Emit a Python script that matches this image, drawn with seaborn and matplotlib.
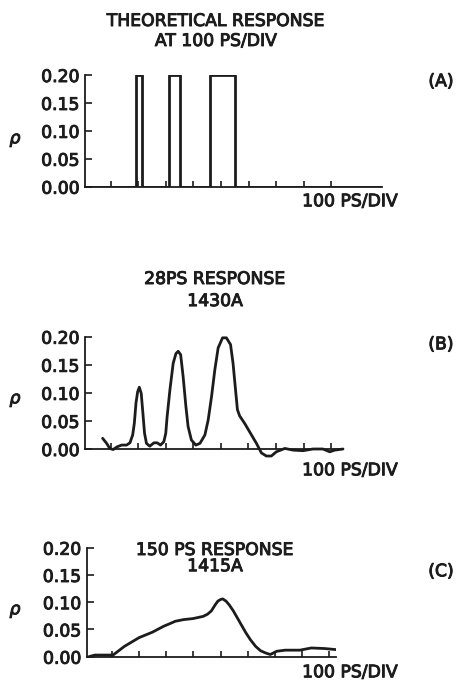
import numpy as np
import pandas as pd
import seaborn as sns
import matplotlib.pyplot as plt
import matplotlib.patheffects as pe

# 資料 (x 以每格 100 ps 為單位)
pulse_start = [1.92, 3.12, 4.60]
pulse_end = [2.12, 3.51, 5.50]
pulse_height = 0.20

b_x = [0.71, 0.855, 0.97, 1.09, 1.24, 1.40, 1.58, 1.70, 1.80, 1.86, 1.92, 1.98, 2.04,
       2.11, 2.17, 2.23, 2.30, 2.42, 2.57, 2.69, 2.81, 2.93, 3.00, 3.05, 3.15, 3.27,
       3.37, 3.45, 3.54, 3.63, 3.73, 3.81, 3.93, 4.09, 4.24, 4.42, 4.54, 4.66, 4.78,
       4.90, 5.06, 5.20, 5.35, 5.44, 5.53, 5.60, 5.68, 5.87, 5.93, 6.11, 6.29, 6.47,
       6.65, 6.83, 7.01, 7.32, 7.62, 7.98, 8.34, 8.70, 8.95, 9.13, 9.43]
b_y = [0.019, 0.010, 0.001, -0.001, 0.004, 0.007, 0.007, 0.011, 0.025, 0.046, 0.082,
       0.102, 0.110, 0.099, 0.064, 0.028, 0.010, 0.005, 0.011, 0.011, 0.007, 0.013,
       0.028, 0.058, 0.105, 0.153, 0.170, 0.174, 0.168, 0.129, 0.076, 0.040, 0.016,
       0.007, 0.010, 0.025, 0.052, 0.093, 0.141, 0.180, 0.198, 0.198, 0.186, 0.153,
       0.106, 0.070, 0.059, 0.045, 0.040, 0.025, 0.010, -0.007, -0.0125, -0.0125,
       -0.005, 0.001, -0.002, -0.003, 0.000, 0.000, -0.005, -0.002, 0.000]

c_x = [0.15, 0.37, 0.73, 1.04, 1.46, 2.00, 2.49, 2.91, 3.15, 3.33, 3.63, 3.99, 4.36,
       4.52, 4.66, 4.80, 4.90, 5.00, 5.08, 5.20, 5.32, 5.47, 5.62, 5.78, 5.93, 6.10,
       6.29, 6.47, 6.65, 6.83, 7.07, 7.38, 7.92, 8.34, 8.83, 9.25]
c_y = [0.000, 0.003, 0.003, 0.003, 0.019, 0.035, 0.045, 0.056, 0.061, 0.065, 0.068,
       0.070, 0.074, 0.078, 0.084, 0.095, 0.102, 0.105, 0.106, 0.102, 0.095, 0.084,
       0.071, 0.057, 0.044, 0.031, 0.019, 0.011, 0.007, 0.004, 0.010, 0.012, 0.012,
       0.016, 0.015, 0.013]

y_ticks = [0.00, 0.05, 0.10, 0.15, 0.20]
x_ticks = [1, 2, 3, 4, 5, 6, 7, 8, 9]

# 理論響應 (方波)
a_x = [0.07]
a_y = [0.0]
for s, e in zip(pulse_start, pulse_end):
    a_x += [s, s, e, e]
    a_y += [0.0, pulse_height, pulse_height, 0.0]
a_x.append(10.82)
a_y.append(0.0)

sns.set_style("ticks")
plt.rcParams["font.family"] = ["DejaVu Sans"]
ink = "#1c1c1c"
fs = 12.4
heavy = [pe.withStroke(linewidth=0.7, foreground=ink)]

W, H = 459, 683
fig = plt.figure(figsize=(W / 100, H / 100), dpi=100)
fig.patch.set_facecolor("white")


def px_axes(x0, x1, ybot, ytop):
    return fig.add_axes([x0 / W, 1 - ybot / H, (x1 - x0) / W, (ybot - ytop) / H])


def style(ax, xmax, xmin=0.07):
    ax.set_xlim(xmin, xmax)
    ax.set_ylim(0, 0.20)
    ax.set_facecolor("none")
    sns.despine(ax=ax)
    for sp in ["left", "bottom"]:
        ax.spines[sp].set_linewidth(1.3)
        ax.spines[sp].set_color(ink)
    ax.set_yticks(y_ticks)
    ax.set_yticklabels([f"{v:.2f}" for v in y_ticks])
    ax.set_xticks(x_ticks)
    ax.set_xticklabels([])
    ax.tick_params(axis="y", direction="in", length=5, width=1.2, pad=4,
                   labelsize=fs, colors=ink)
    ax.tick_params(axis="x", direction="in", length=4, width=1.2, colors=ink)
    for lab in ax.get_yticklabels():
        lab.set_path_effects(heavy)
    ax.set_xlabel("")
    ax.set_ylabel("")


def txt(x, y, s, **kw):
    # y 為大寫字母中心
    fig.text(x / W, 1 - (y + 6.3) / H, s, color=ink, ha="center", va="baseline",
             path_effects=heavy, **kw)


def title(x, y, s, ls):
    # y 為第一行大寫字母中心
    fig.text(x / W, 1 - (y - 7) / H, s, color=ink, ha="center", va="top",
             multialignment="center", linespacing=ls, fontsize=fs, path_effects=heavy)


# (A)
ax_a = px_axes(85, 381.7, 186.7, 75)
sns.lineplot(x=a_x, y=a_y, ax=ax_a, estimator=None, sort=False, color=ink, lw=2)
style(ax_a, 10.82)

# (B)
ax_b = px_axes(85, 343, 449, 336.7)
sns.lineplot(x=b_x, y=b_y, ax=ax_b, estimator=None, sort=False, color=ink, lw=2)
style(ax_b, 9.43)
for ln in ax_b.lines:
    ln.set_clip_on(False)

# (C)
ax_c = px_axes(86.7, 336, 656.7, 547.7)
sns.lineplot(x=c_x, y=c_y, ax=ax_c, estimator=None, sort=False, color=ink, lw=2)
style(ax_c, 9.25)

# 文字
title(216, 19, "THEORETICAL RESPONSE\nAT 100 PS/DIV", 1.14)
title(215, 277, "28PS RESPONSE\n1430A", 1.29)
title(215, 548, "150 PS RESPONSE\n1415A", 0.87)

for y, lab in [(80, "(A)"), (343, "(B)"), (570, "(C)")]:
    txt(441, y, lab, fontsize=fs)
for y in [200, 469, 671]:
    txt(350, y, "100 PS/DIV", fontsize=fs)
for y in [137, 397, 608]:
    txt(15, y, "ρ", fontsize=fs, style="italic")

fig.savefig("out.png", dpi=100, facecolor="white")
